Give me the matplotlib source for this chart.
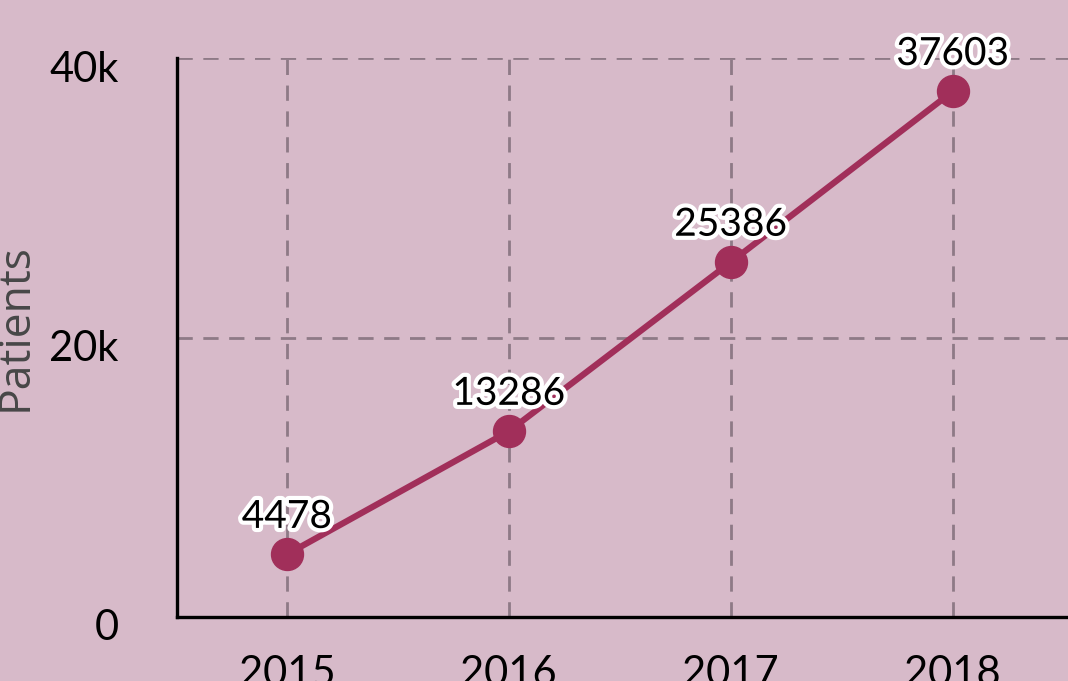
import matplotlib.pyplot as plt
import matplotlib.patheffects as pe
import matplotlib.transforms as mtrans

# data
years = [2015, 2016, 2017, 2018]
patients = [4478, 13286, 25386, 37603]
ytick_vals = [0, 20000, 40000]
ytick_labels = ["0", "20k", "40k"]

bg = "#d7bac9"
line_col = "#a12f5a"
grid_col = "#8e7a86"

plt.rcParams['font.family'] = ['Lato', 'DejaVu Sans']

fig = plt.figure(figsize=(10.68, 6.81), dpi=100, facecolor=bg)
ax = fig.add_axes([177 / 1068, 64 / 681, 1 - 177 / 1068, (617 - 58) / 681])
ax.set_facecolor(bg)

ax.plot(years, patients, color=line_col, linewidth=4.5, marker="o",
        markersize=23, zorder=3, clip_on=False)

# value labels with white outline
for x, y in zip(years, patients):
    ax.annotate(str(y), (x, y), xytext=(0, 27), textcoords="offset points",
                ha="center", va="center", fontsize=28, color="black", zorder=4,
                path_effects=[pe.withStroke(linewidth=6, foreground="white")])

ax.set_xlim(2014.505, 2018.52)
ax.set_ylim(0, 40000)
ax.set_xticks(years)
ax.set_xticklabels([str(y) for y in years])
ax.set_yticks(ytick_vals)
ax.set_yticklabels(ytick_labels)
ax.tick_params(axis="both", length=0, labelsize=30, colors="black")
ax.tick_params(axis="y", pad=42)
ax.tick_params(axis="x", pad=27)
# y tick labels sit a little below their gridlines
shift = mtrans.ScaledTranslation(0, -0.08, fig.dpi_scale_trans)
for lbl in ax.get_yticklabels():
    lbl.set_transform(lbl.get_transform() + shift)

ax.grid(True, linestyle=(0, (5.5, 3.8)), color=grid_col, linewidth=2)
ax.set_axisbelow(True)

for s in ["top", "right"]:
    ax.spines[s].set_visible(False)
for s in ["left", "bottom"]:
    ax.spines[s].set_linewidth(2.4)
    ax.spines[s].set_color("black")

ax.set_ylabel("Patients", fontsize=32, color="#474747", family="Open Sans")
ax.yaxis.set_label_coords(-0.156, 0.518)

fig.savefig("out.png", dpi=100, facecolor=bg)
